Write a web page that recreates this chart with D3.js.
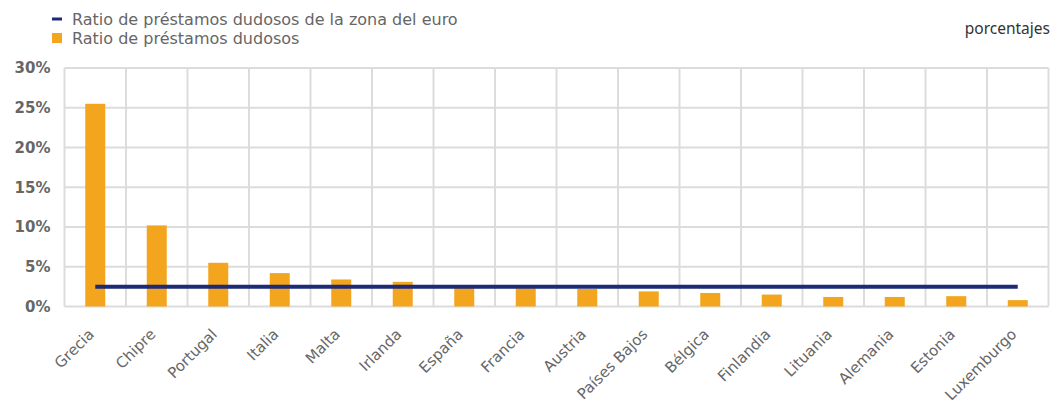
<!DOCTYPE html>
<html><head><meta charset="utf-8">
<script src="https://cdn.jsdelivr.net/npm/d3@7"></script>
<style>body{margin:0;background:#fff}svg{display:block}</style>
</head><body>
<svg id="c" width="1060" height="415"></svg>
<script>
const categories = ["Grecia","Chipre","Portugal","Italia","Malta","Irlanda","España","Francia","Austria","Países Bajos","Bélgica","Finlandia","Lituania","Alemania","Estonia","Luxemburgo"];
const nplRatio = [25.5,10.2,5.5,4.2,3.4,3.1,2.4,2.3,2.2,1.9,1.7,1.5,1.2,1.2,1.3,0.8];
const euroAreaRatio = [2.5,2.5,2.5,2.5,2.5,2.5,2.5,2.5,2.5,2.5,2.5,2.5,2.5,2.5,2.5,2.5];
const yTicks = [0,5,10,15,20,25,30];
const legendLabels = ["Ratio de préstamos dudosos de la zona del euro","Ratio de préstamos dudosos"];
const unitLabel = "porcentajes";

const svg = d3.select("#c");
const m = {l:64.5, r:1048.5, t:68, b:306.5};
const x = d3.scaleBand().domain(categories).range([m.l, m.r]).padding(0);
const y = d3.scaleLinear().domain([0,30]).range([m.b, m.t]);
const grid = "#dcdcdc";
const font = "DejaVu Sans, Verdana, sans-serif";

// horizontal gridlines
svg.append("g").selectAll("line").data(yTicks).join("line")
  .attr("x1", m.l).attr("x2", m.r).attr("y1", d=>y(d)).attr("y2", d=>y(d))
  .attr("stroke", grid).attr("stroke-width", 2);
// vertical gridlines at category boundaries
const bounds = categories.map(c=>x(c)).concat([m.r]);
svg.append("g").selectAll("line").data(bounds).join("line")
  .attr("x1", d=>d).attr("x2", d=>d).attr("y1", m.t).attr("y2", m.b)
  .attr("stroke", grid).attr("stroke-width", 2);

// y axis labels
const yAxis = d3.axisLeft(y).tickValues(yTicks).tickFormat(d=>d+"%").tickSize(0).tickPadding(14);
const ya = svg.append("g").attr("transform",`translate(${m.l},0)`).call(yAxis);
ya.select(".domain").remove();
ya.selectAll("text").attr("font-family",font).attr("font-size",15).attr("font-weight","bold").attr("fill","#666");

// bars
const bw = 20;
svg.append("g").selectAll("rect").data(nplRatio).join("rect")
  .attr("x", (d,i)=>x(categories[i]) + x.bandwidth()/2 - bw/2)
  .attr("width", bw)
  .attr("y", d=>y(d)).attr("height", d=>y(0)-y(d))
  .attr("fill","#f3a51d");

// euro area line
const line = d3.line().x((d,i)=>x(categories[i])+x.bandwidth()/2).y(d=>y(d));
svg.append("path").datum(euroAreaRatio).attr("d", line)
  .attr("fill","none").attr("stroke","#1c2a78").attr("stroke-width",4);

// x axis labels
const xAxis = d3.axisBottom(x).tickSize(0).tickPadding(0);
const xa = svg.append("g").attr("transform",`translate(0,${m.b})`).call(xAxis);
xa.select(".domain").remove();
xa.selectAll("text")
  .attr("font-family",font).attr("font-size",15).attr("fill","#666")
  .attr("text-anchor","end").attr("dy","0.35em")
  .attr("transform","translate(-4,25) rotate(-45)");

// legend
const lg = svg.append("g").attr("font-family",font).attr("font-size",16).attr("fill","#666");
lg.append("line").attr("x1",52).attr("x2",62).attr("y1",19).attr("y2",19).attr("stroke","#1c2a78").attr("stroke-width",3);
lg.append("rect").attr("x",52).attr("y",33).attr("width",10).attr("height",10).attr("fill","#f3a51d");
lg.append("text").attr("x",72).attr("y",25).text(legendLabels[0]);
lg.append("text").attr("x",72).attr("y",44).text(legendLabels[1]);

svg.append("text").attr("x",1050).attr("y",34).attr("text-anchor","end")
  .attr("font-family","Noto Sans, Open Sans, sans-serif").attr("font-size",15.5).attr("fill","#333").text(unitLabel);
</script>
</body></html>
